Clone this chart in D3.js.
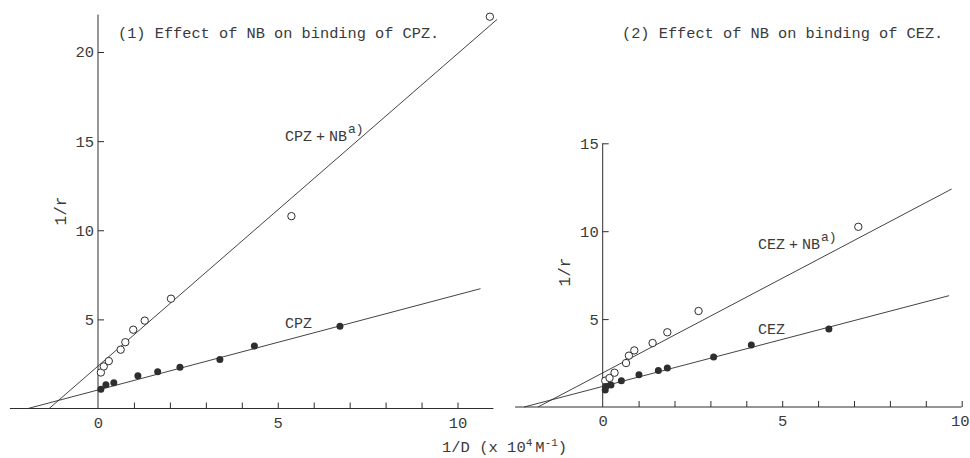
<!DOCTYPE html>
<html>
<head>
<meta charset="utf-8">
<script src="https://cdn.jsdelivr.net/npm/d3@7"></script>
<style>
  html, body { margin: 0; padding: 0; background: #fff; }
  svg text { font-family: "Liberation Mono", "DejaVu Sans Mono", monospace; fill: #3a3a3a; }
</style>
</head>
<body>
<svg id="chart" width="970" height="458"></svg>
<script>
// ---------- DATA ----------
// Panel 1: CPZ
const cpzX      = [0.08, 0.22, 0.44, 1.11, 1.66, 2.28, 3.39, 4.35, 6.73];
const cpzY      = [1.08, 1.33, 1.44, 1.84, 2.06, 2.32, 2.75, 3.50, 4.62];
const cpzNbX    = [0.08, 0.16, 0.30, 0.63, 0.76, 0.98, 1.30, 2.03, 5.38, 10.90];
const cpzNbY    = [2.02, 2.36, 2.66, 3.30, 3.72, 4.42, 4.93, 6.16, 10.79, 21.98];
// fitted lines: [slope, intercept, xStart, xEnd]
const cpzFit    = [0.534, 1.04, -1.95, 10.64];
const cpzNbFit  = [1.752, 2.38, -1.36, 11.10];

// Panel 2: CEZ
const cezX      = [0.07, 0.09, 0.23, 0.52, 1.01, 1.55, 1.80, 3.09, 4.14, 6.30];
const cezY      = [0.97, 1.16, 1.25, 1.50, 1.84, 2.07, 2.22, 2.85, 3.52, 4.44];
const cezNbX    = [0.07, 0.19, 0.33, 0.65, 0.73, 0.88, 1.39, 1.80, 2.67, 7.12];
const cezNbY    = [1.50, 1.65, 1.95, 2.50, 2.92, 3.22, 3.64, 4.25, 5.46, 10.25];
const cezFit    = [0.535, 1.17, -2.19, 9.65];
const cezNbFit  = [1.076, 1.94, -1.80, 9.72];

// axes
const xTickLabels   = [0, 5, 10];
const xMinorTicks   = [1, 2, 3, 4, 5, 6, 7, 8, 9, 10];
const yTicks1       = [5, 10, 15, 20];
const yTicks2       = [5, 10, 15];

const titles  = ["(1) Effect of NB on binding of CPZ.", "(2) Effect of NB on binding of CEZ."];
const yLabel  = "1/r";

// ---------- DRAW ----------
const svg = d3.select("#chart");
const ink = "#2e2e2e";
const mono = '"Liberation Mono", "DejaVu Sans Mono", monospace';

function panel(cfg) {
  const g = svg.append("g");
  const x = d3.scaleLinear().domain([0, 10]).range(cfg.xRange);
  const y = d3.scaleLinear().domain([0, cfg.yMax]).range(cfg.yRange);

  // x axis line
  g.append("line")
    .attr("x1", x(cfg.xExtent[0])).attr("x2", x(cfg.xExtent[1]))
    .attr("y1", y(0)).attr("y2", y(0))
    .attr("stroke", ink).attr("stroke-width", 1);
  // y axis line
  g.append("line")
    .attr("x1", x(0)).attr("x2", x(0))
    .attr("y1", y(0)).attr("y2", y(cfg.yTop))
    .attr("stroke", ink).attr("stroke-width", 1);

  // x minor ticks (upward)
  const xt = g.append("g").attr("transform", `translate(0,${y(0)})`)
    .call(d3.axisBottom(x).tickValues(xMinorTicks).tickSize(-6).tickFormat(""));
  xt.select(".domain").remove();
  xt.selectAll("line").attr("stroke", ink);

  // x tick labels
  const xl = g.append("g").attr("transform", `translate(0,${y(0)})`)
    .call(d3.axisBottom(x).tickValues(xTickLabels).tickSize(0).tickPadding(8).tickFormat(d3.format("d")));
  xl.select(".domain").remove();
  xl.selectAll("text").attr("font-size", 15.5).style("font-family", mono).attr("fill", "#3a3a3a")
    .attr("dx", d => (cfg.lastLabelShift && d === 10) ? cfg.lastLabelShift : 0);

  // y axis ticks (inward) + labels
  const ya = g.append("g").attr("transform", `translate(${x(0)},0)`)
    .call(d3.axisLeft(y).tickValues(cfg.yTicks).tickSizeInner(-6).tickSizeOuter(0).tickPadding(4).tickFormat(d3.format("d")));
  ya.select(".domain").remove();
  ya.selectAll("line").attr("stroke", ink);
  ya.selectAll("text").attr("font-size", 15.5).style("font-family", mono).attr("fill", "#3a3a3a");

  // fit lines
  cfg.fits.forEach(f => {
    const [m, b, x0, x1] = f;
    g.append("line")
      .attr("x1", x(x0)).attr("y1", y(m * x0 + b))
      .attr("x2", x(x1)).attr("y2", y(m * x1 + b))
      .attr("stroke", ink).attr("stroke-width", 0.9);
  });

  // open circles
  g.append("g").selectAll("circle").data(d3.zip(cfg.openX, cfg.openY)).join("circle")
    .attr("cx", d => x(d[0])).attr("cy", d => y(d[1])).attr("r", 3.7)
    .attr("fill", "#fff").attr("stroke", ink).attr("stroke-width", 1);
  // filled circles
  g.append("g").selectAll("circle").data(d3.zip(cfg.fillX, cfg.fillY)).join("circle")
    .attr("cx", d => x(d[0])).attr("cy", d => y(d[1])).attr("r", 3.5)
    .attr("fill", ink);

  // title
  g.append("text").attr("x", cfg.titlePos[0]).attr("y", cfg.titlePos[1])
    .attr("font-size", 15.3).text(cfg.title);

  // y label
  g.append("text")
    .attr("transform", `translate(${cfg.yLabelPos[0]},${cfg.yLabelPos[1]}) rotate(-90)`)
    .attr("text-anchor", "middle").attr("font-size", 16).text(yLabel);

  // series labels
  const lab1 = g.append("text").attr("x", cfg.nbLabelPos[0]).attr("y", cfg.nbLabelPos[1]).attr("font-size", 15);
  lab1.append("tspan").text(cfg.drug);
  lab1.append("tspan").attr("dx", 4).text("+");
  lab1.append("tspan").attr("dx", 4).text("NB");
  lab1.append("tspan").attr("dx", 1).attr("dy", -8).attr("font-size", 13).text("a)");

  g.append("text").attr("x", cfg.drugLabelPos[0]).attr("y", cfg.drugLabelPos[1])
    .attr("font-size", 15).text(cfg.drug);

  return { x, y };
}

panel({
  xRange: [98, 457.5], yMax: 20, yRange: [408.5, 52], yTop: 22.1, xExtent: [-2.45, 11.0],
  yTicks: yTicks1, fits: [cpzFit, cpzNbFit],
  openX: cpzNbX, openY: cpzNbY, fillX: cpzX, fillY: cpzY,
  title: titles[0], titlePos: [118, 38],
  yLabelPos: [66, 211],
  drug: "CPZ", nbLabelPos: [285, 141], drugLabelPos: [285, 328]
});

panel({
  xRange: [602.7, 961.7], yMax: 15, yRange: [407, 143.3], yTop: 15, xExtent: [-2.44, 10],
  yTicks: yTicks2, fits: [cezFit, cezNbFit],
  openX: cezNbX, openY: cezNbY, fillX: cezX, fillY: cezY,
  title: titles[1], titlePos: [622, 38],
  yLabelPos: [570, 272],
  drug: "CEZ", nbLabelPos: [758, 249], drugLabelPos: [758, 334],
  lastLabelShift: -2
});

// shared x axis label
const xlab = svg.append("text").attr("x", 442).attr("y", 452).attr("font-size", 15.5);
xlab.append("tspan").text("1/D (x 10");
xlab.append("tspan").attr("dy", -6).attr("font-size", 11).text("4");
xlab.append("tspan").attr("dy", 6).attr("dx", 3).text("M");
xlab.append("tspan").attr("dy", -6).attr("font-size", 11).text("-1");
xlab.append("tspan").attr("dy", 6).text(")");
</script>
</body>
</html>
